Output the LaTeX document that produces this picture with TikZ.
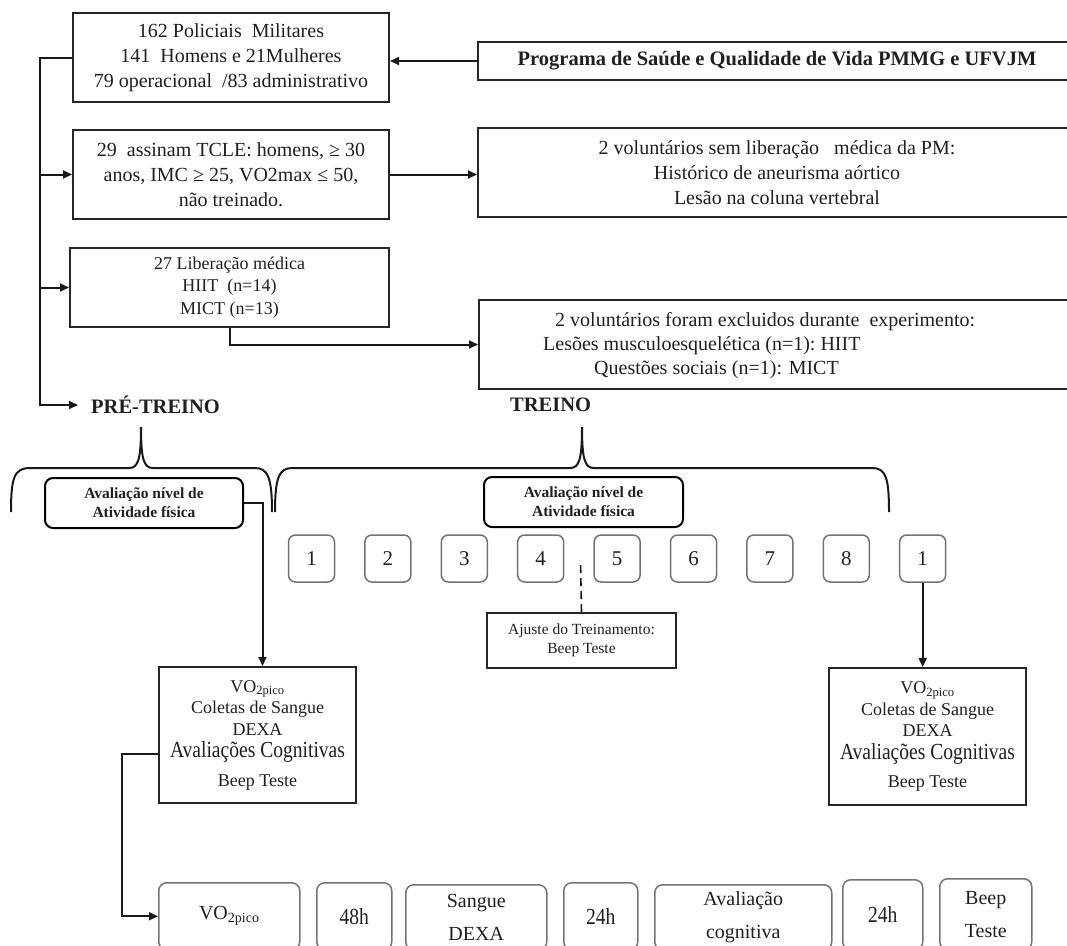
\documentclass[tikz,border=0pt]{standalone}
\usepackage{fontspec}
\setmainfont{Liberation Serif}
\newfontfamily\condfont[FakeStretch=0.85]{Liberation Serif}
\usetikzlibrary{arrows.meta}
\newcommand\mybox[7]{\node[#1, minimum width={#5-#3}, minimum height={#6-#4}] (#2) at (#3,#4) {#7};}
\begin{document}
\begin{tikzpicture}[x=1pt,y=-1pt,
  every node/.style={text=black!88},
  box/.style={draw=black!85, line width=2pt, inner sep=0pt, anchor=north west, align=center},
  nbox/.style={draw=black!55, line width=1.5pt, rounded corners=7pt, inner sep=0pt, anchor=center, align=center,
     minimum width=46pt, minimum height=47pt, font=\fontsize{21}{24}\selectfont},
  rbox/.style={draw=black!55, line width=1.5pt, rounded corners=8pt, inner sep=0pt, anchor=north west, align=center,
     font=\fontsize{20}{33}\selectfont},
  abox/.style={draw=black, line width=2pt, rounded corners=8pt, inner sep=0pt, anchor=north west, align=center,
     font=\bfseries\fontsize{15.5}{19}\selectfont},
  bigbox/.style={box, font=\fontsize{18}{21.5}\selectfont},
  conn/.style={line width=2pt, draw=black!90},
  arr/.style={conn, -{Triangle[length=9pt,width=8pt]}},
  brace/.style={line width=2pt, draw=black!90},
  head/.style={font=\bfseries\fontsize{20.5}{24}\selectfont, inner sep=0pt, anchor=west}
]
\useasboundingbox (0,0) rectangle (1067,945);
\clip (0,0) rectangle (1067,945);

% ---- top flow ----
\mybox{box, font=\fontsize{20}{25}\selectfont}{top}{72}{12}{388}{101}{162 Policiais\ \ Militares\\ 141\ \ Homens e 21Mulheres\\ 79 operacional\ \ /83 administrativo}
\mybox{box, font=\fontsize{20}{25}\selectfont}{box2}{72}{129}{388}{218}{29\ \ assinam TCLE:\ homens, ≥ 30\\ anos, IMC ≥ 25, VO2max ≤ 50,\\ não treinado.}
\mybox{box, font=\fontsize{18}{22.5}\selectfont}{box3}{69}{247}{388}{326}{27 Liberação médica\\ HIIT\ \ (n=14)\\ MICT (n=13)}

\mybox{box, font=\bfseries\fontsize{20.5}{24}\selectfont}{prog}{477}{41}{1075}{79}{Programa de Saúde e Qualidade de Vida PMMG e UFVJM}
\mybox{box, font=\fontsize{20}{25}\selectfont}{right2}{477}{127}{1075}{216}{2 voluntários sem liberação\ \ \ médica da PM:\\ Histórico de aneurisma aórtico\\ Lesão na coluna vertebral}
\mybox{box}{excl}{478}{299}{1075}{388}{}
\node[anchor=west, align=left, inner sep=0pt, font=\fontsize{20}{24}\selectfont] (excltxt) at (543,346)
  {\hspace*{12pt}2 voluntários\ foram excluidos durante\ \ experimento:\\ Lesões musculoesquelética (n=1):\ HIIT\\ \hspace*{51pt}Questões sociais (n=1): MICT};

\node[head] (pre) at (91,405) {PRÉ-TREINO};
\node[head] (treino) at (510,405) {TREINO};

\coordinate (tr) at (40,0);
\draw[conn] (top.west) -| (tr |- box2.west);
\draw[arr] (tr |- box2.west) -- (box2.west);
\draw[arr] (tr |- box3.west) -- (box3.west);
\draw[arr] (tr |- box2.west) -- (tr |- pre.west) -- ([xshift=-13pt]pre.west);
\draw[arr] (prog.west) -- (prog.west -| top.east);
\draw[arr] (box2.east) -- (box2.east -| right2.west);
\draw[arr] (box3.south) |- (excl.west);

% ---- braces ----
\draw[brace] (11,512) .. controls (11,478) and (14,468) .. (30,468) -- (129,468) .. controls (138,468) and (141,460) .. (141,427);
\draw[brace] (141,427) .. controls (141,460) and (144,468) .. (153,468) -- (255,468) .. controls (268,468) and (272,478) .. (272,512);
\draw[brace] (275,512) .. controls (275,478) and (279,468) .. (292,468) -- (570,468) .. controls (579,468) and (582,460) .. (582,427);
\draw[brace] (582,427) .. controls (582,460) and (585,468) .. (594,468) -- (872,468) .. controls (886,468) and (889,478) .. (889,512);

% ---- activity assessment boxes ----
\mybox{abox}{aval1}{44}{477}{242}{527}{Avaliação nível de\\ Atividade física}
\mybox{abox}{aval2}{483}{476}{682}{526}{Avaliação nível de\\ Atividade física}

% ---- week boxes ----
\foreach \i/\t in {0/1,1/2,2/3,3/4,4/5,5/6,6/7,7/8,8/1}{
  \node[nbox] (n\i) at ({311.5+76.4*\i},558.5) {\t};
}

% ---- adjustment ----
\mybox{box, font=\fontsize{15.5}{19}\selectfont}{ajuste}{486}{612}{675}{667}{Ajuste do Treinamento:\\ Beep Teste}
\coordinate (dtop) at (580.5,560);
\draw[conn, line width=1.6pt, dash pattern=on 8pt off 5pt] (ajuste.north) -- (dtop);

% ---- big boxes ----
\newcommand\bigtext{VO\textsubscript{2pico}\\ Coletas de Sangue\\ DEXA\\[1pt] {\condfont\fontsize{23}{24}\selectfont Avaliações Cognitivas}\\[7pt] Beep Teste}
\mybox{bigbox}{pbig}{158}{666}{355}{802}{\bigtext}
\mybox{bigbox}{qbig}{828}{667}{1025}{804}{\bigtext}

\draw[arr] (aval1.east) -| ([xshift=5pt]pbig.north);
\draw[arr] (n8.south) -- (n8.south |- qbig.north);

% ---- bottom row ----
\mybox{rbox}{b1}{158}{882}{299}{949}{VO\textsubscript{2pico}}
\mybox{rbox, font=\condfont\fontsize{23}{26}\selectfont}{b2}{316}{882}{391}{949}{48h}
\mybox{rbox}{b3}{405}{884}{546}{949}{Sangue\\ DEXA}
\mybox{rbox, font=\condfont\fontsize{23}{26}\selectfont}{b4}{563}{882}{637}{949}{24h}
\mybox{rbox}{b5}{654}{884}{831}{949}{Avaliação\\ cognitiva}
\mybox{rbox, font=\condfont\fontsize{23}{26}\selectfont}{b6}{842}{879}{922}{949}{24h}
\mybox{rbox}{b7}{939}{878}{1031}{949}{Beep\\ Teste}

\draw[arr] ([yshift=-19pt]pbig.west) -- ++(-36,0) |- (b1.west);
\end{tikzpicture}
\end{document}
